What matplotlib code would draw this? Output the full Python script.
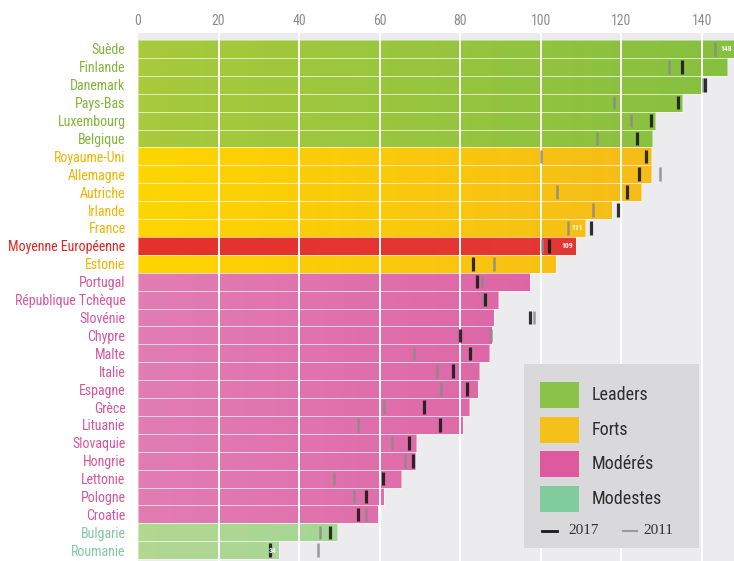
import numpy as np
import matplotlib
matplotlib.use('Agg')
import matplotlib.pyplot as plt
from matplotlib import font_manager
from matplotlib.patches import Rectangle
from matplotlib.colors import LinearSegmentedColormap

# data
pays = ['Suède', 'Finlande', 'Danemark', 'Pays-Bas', 'Luxembourg', 'Belgique',
        'Royaume-Uni', 'Allemagne', 'Autriche', 'Irlande', 'France',
        'Moyenne Européenne', 'Estonie', 'Portugal', 'République Tchèque',
        'Slovénie', 'Chypre', 'Malte', 'Italie', 'Espagne', 'Grèce', 'Lituanie',
        'Slovaquie', 'Hongrie', 'Lettonie', 'Pologne', 'Croatie', 'Bulgarie',
        'Roumanie']
groupe = ['L'] * 6 + ['F'] * 5 + ['UE'] + ['F'] + ['M'] * 14 + ['D'] * 2
score = [148, 146.3, 140.1, 135.1, 128.5, 127.7, 127.5, 127.5, 125.0, 117.6,
         111.1, 108.7, 103.7, 97.3, 89.4, 88.4, 87.9, 87.2, 84.7, 84.4, 82.2,
         80.7, 69.1, 68.9, 65.4, 61.0, 59.5, 49.5, 34.9]
val_2017 = [np.nan, 135.1, 140.8, 134.0, 127.3, 123.8, 126.2, 124.3, 121.5,
            119.3, 112.6, 102.0, 83.2, 84.2, 86.2, 97.3, 80.0, 82.5, 78.3,
            81.8, 71.1, 75.1, 67.4, 68.4, 60.8, 56.5, 54.6, 47.8, 32.7]
val_2011 = [143.2, 131.9, 140.3, 118.3, 122.3, 113.9, 100.0, 129.5, 104.0,
            112.9, 106.8, 100.2, 88.4, 85.4, 85.7, 98.3, 87.7, 68.6, 74.3,
            75.3, 61.0, 54.6, 63.0, 66.2, 48.6, 53.6, 56.5, 45.1, 44.7]
etiquettes = {'Suède': '148', 'France': '111', 'Moyenne Européenne': '109',
              'Roumanie': '34'}
xticks = [0, 20, 40, 60, 80, 100, 120, 140]

legende = [('Leaders', 'L'), ('Forts', 'F'), ('Modérés', 'M'), ('Modestes', 'D')]

# left colour -> right colour of each group
degrade = {'L': ('#a8ca3c', '#86c040'), 'F': ('#fdd600', '#f5b81c'),
           'UE': ('#e6302e', '#e33a36'), 'M': ('#e27db4', '#dc5a9e'),
           'D': ('#b2d890', '#8cd2a6')}
couleur_texte = {'L': '#82b43a', 'F': '#f0b400', 'UE': '#e02424',
                 'M': '#d6559c', 'D': '#80c8a0'}

# narrow font if there is one
def existe(nom):
    try:
        f = font_manager.findfont(nom, fallback_to_default=False)
        return f is not None
    except Exception:
        return False

etroite, taille = 'Liberation Sans', 9.0
for nom in ['Roboto Condensed', 'Liberation Sans Narrow', 'Noto Sans Condensed',
            'Open Sans Condensed', 'Arial Narrow']:
    if existe(nom):
        etroite, taille = nom, 10.0
        break

fig = plt.figure(figsize=(7.34, 5.61), dpi=100)
ax = fig.add_axes([138 / 734, 0, 596 / 734, 528 / 561])
ax.set_facecolor('#ececef')

XMAX = 148
y = np.arange(len(pays))
for i, g in enumerate(groupe):
    cmap = LinearSegmentedColormap.from_list('g' + g, degrade[g])
    grad = np.linspace(0, score[i] / XMAX, 64).reshape(1, -1)
    ax.imshow(grad, cmap=cmap, vmin=0, vmax=1, aspect='auto',
              extent=(0, score[i], i + 0.5, i - 0.5), zorder=2,
              interpolation='bilinear')
ax.barh(y, score, height=1.0, facecolor='none', edgecolor='#ffffff',
        linewidth=0.5, alpha=0.6, zorder=2.5)

for t in xticks[1:]:
    ax.axvline(t, color='white', lw=1.4, zorder=3)

ax.vlines(val_2011, y - 0.38, y + 0.38, color='#8a8a8a', lw=1.8, alpha=0.85,
          zorder=4)
ax.vlines(val_2017, y - 0.38, y + 0.38, color='#1a1a1a', lw=2.3, alpha=0.9,
          zorder=5)

for i, p in enumerate(pays):
    if p in etiquettes:
        ax.text(score[i] - 0.6, i, etiquettes[p], ha='right', va='center',
                fontsize=5.5, color='white', fontweight='bold', zorder=6,
                family=etroite)

ax.set_xlim(0, XMAX)
ax.set_ylim(28.6, -0.89)
ax.set_xticks(xticks)
ax.set_xticklabels([str(t) for t in xticks], family=etroite)
ax.xaxis.tick_top()
ax.tick_params(axis='x', length=0, pad=3.5, labelsize=10, labelcolor='#8c8c8c')
ax.set_yticks(y)
ax.set_yticklabels(pays, fontsize=taille, family=etroite)
ax.tick_params(axis='y', length=0, pad=9)
for lab, g in zip(ax.get_yticklabels(), groupe):
    lab.set_color(couleur_texte[g])
for s in ax.spines.values():
    s.set_visible(False)

# legend box
tr = fig.transFigure
W, H = 734, 561
def fx(px):
    return px / W
def fy(py):
    return 1 - py / H

fig.patches.append(Rectangle((fx(524), fy(548)), fx(699) - fx(524),
                             fy(364) - fy(548), transform=tr,
                             facecolor='#d9d9db', edgecolor='none', zorder=10))
legende_couleur = {'L': '#8bc34a', 'F': '#f5c01a', 'M': '#de5a9e', 'D': '#80cc9c'}
for k, (nom, g) in enumerate(legende):
    top = 382 + 34.7 * k
    fig.patches.append(Rectangle((fx(540), fy(top + 26)), fx(579) - fx(540),
                                 fy(top) - fy(top + 26), transform=tr,
                                 facecolor=legende_couleur[g], edgecolor='none',
                                 zorder=11))
    fig.text(fx(592), fy(top + 13), nom, transform=tr, fontsize=13,
             color='#2e2e2e', va='center', ha='left', zorder=12,
             family=etroite)

fig.add_artist(plt.Line2D([fx(542), fx(557)], [fy(531), fy(531)], transform=tr,
                          color='#1a1a1a', lw=2, zorder=12))
fig.text(fx(568), fy(531), '2017', transform=tr, fontsize=11, color='#333333',
         va='center', ha='left', family='Liberation Serif', zorder=12)
fig.add_artist(plt.Line2D([fx(623), fx(637)], [fy(531), fy(531)], transform=tr,
                          color='#9a9a9a', lw=1.5, zorder=12))
fig.text(fx(643), fy(531), '2011', transform=tr, fontsize=11, color='#333333',
         va='center', ha='left', family='Liberation Serif', zorder=12)

fig.savefig('out.png', dpi=100)
